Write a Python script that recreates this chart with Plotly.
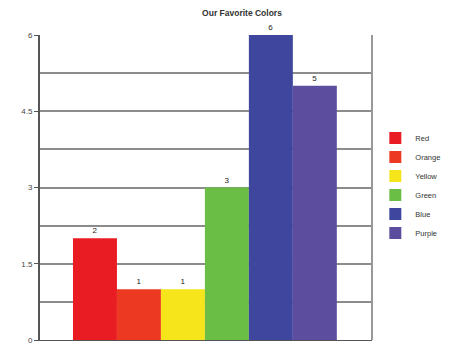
import plotly.graph_objects as go

categories = ["Red", "Orange", "Yellow", "Green", "Blue", "Purple"]
values = [2, 1, 1, 3, 6, 5]
bar_colors = ["#E91C24", "#EC3A22", "#F5E51A", "#6ABD45", "#3E479D", "#5C4D9F"]
y_tick_vals = [0, 1.5, 3, 4.5, 6]
y_tick_text = ["0", "1.5", "3", "4.5", "6"]
title_text = "Our Favorite Colors"

fig = go.Figure()
for i, (c, v, col) in enumerate(zip(categories, values, bar_colors)):
    fig.add_trace(go.Bar(
        x=[i], y=[v], name=c, width=1,
        marker=dict(color=col, line=dict(width=0)),
        text=[str(v)], textposition="outside",
        textfont=dict(size=8, color="#222", family="Liberation Sans"),
        cliponaxis=False,
    ))

fig.update_layout(
    width=476, height=356,
    margin=dict(l=40, r=104, t=35, b=16),
    paper_bgcolor="white", plot_bgcolor="white",
    barmode="overlay",
    showlegend=True,
    title=dict(text="<b>" + title_text + "</b>", x=242/476, xanchor="center",
               y=1 - 13/356, yanchor="middle",
               font=dict(size=8.5, family="Liberation Sans", color="#333")),
    legend=dict(x=1.01, xanchor="left", y=0.71, yanchor="top",
                font=dict(size=7.5, family="Liberation Sans", color="#333"),
                itemwidth=30, tracegroupgap=0, bgcolor="rgba(0,0,0,0)"),
    xaxis=dict(range=[-1.25, 6.3], showticklabels=False, showgrid=False,
               zeroline=False, showline=True, linecolor="#555", linewidth=1,
               mirror=False, fixedrange=True),
    yaxis=dict(range=[0, 6], tickvals=y_tick_vals, ticktext=y_tick_text,
               ticks="outside", ticklen=4, tickcolor="#555", tickwidth=1,
               showline=True, linecolor="#555", linewidth=2,
               showgrid=True, gridcolor="#8c8c8c", gridwidth=2,
               minor=dict(dtick=0.75, showgrid=True, gridcolor="#8c8c8c", gridwidth=2),
               zeroline=False,
               tickfont=dict(size=8, family="Liberation Sans", color="#444")),
)
# right border of plot area
fig.add_shape(type="line", xref="paper", yref="paper", x0=1, x1=1, y0=0, y1=1,
              line=dict(color="#999", width=2))

fig.write_html("out.html")
